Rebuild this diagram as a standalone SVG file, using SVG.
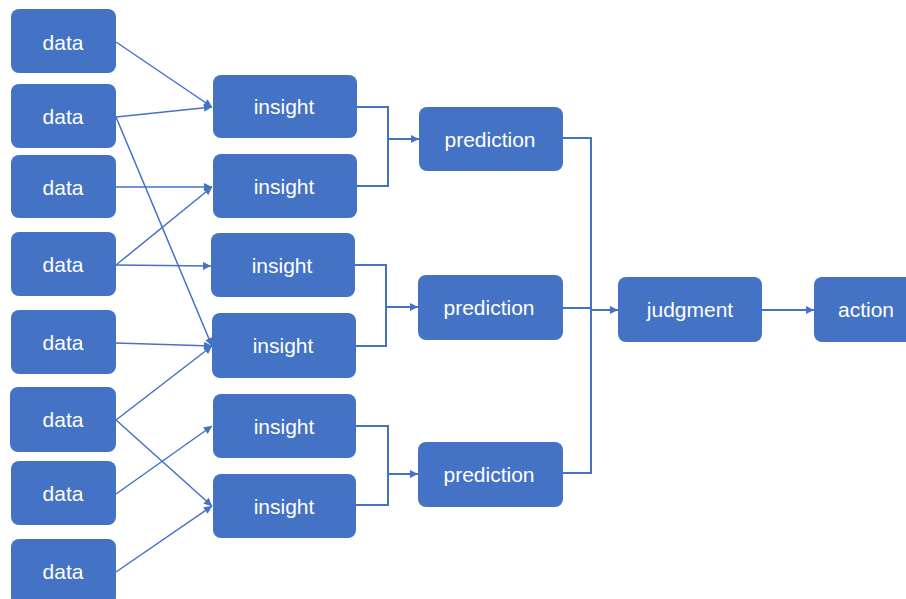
<svg xmlns="http://www.w3.org/2000/svg" width="906" height="599" viewBox="0 0 906 599">
  <style>
    .box { fill: #4472C4; }
    .lbl { fill: #ffffff; font-family: "Liberation Sans", Arial, sans-serif; font-size: 21px; text-anchor: middle; }
    .wire { fill: none; stroke: #4472C4; stroke-width: 1.5; }
    .bus { fill: none; stroke: #4472C4; stroke-width: 2; }
  </style>
  <defs>
    <marker id="arrow" viewBox="0 0 10 10" refX="10" refY="5" markerWidth="9" markerHeight="8" markerUnits="userSpaceOnUse" orient="auto">
      <path d="M0,0 L10,5 L0,10 z" fill="#4472C4"/>
    </marker>
  </defs>
  <rect width="906" height="599" fill="#ffffff"/>

  <!-- connectors -->
  <g id="connectors">
    <!-- data to insight -->
    <line class="wire" x1="116" y1="42" x2="212" y2="107" marker-end="url(#arrow)"/>
    <line class="wire" x1="116" y1="117" x2="212" y2="107" marker-end="url(#arrow)"/>
    <line class="wire" x1="116" y1="117" x2="212" y2="346" marker-end="url(#arrow)"/>
    <line class="wire" x1="116" y1="187" x2="212" y2="187" marker-end="url(#arrow)"/>
    <line class="wire" x1="116" y1="265" x2="212" y2="187" marker-end="url(#arrow)"/>
    <line class="wire" x1="116" y1="265" x2="211" y2="266" marker-end="url(#arrow)"/>
    <line class="wire" x1="116" y1="343" x2="212" y2="346" marker-end="url(#arrow)"/>
    <line class="wire" x1="116" y1="420" x2="212" y2="346" marker-end="url(#arrow)"/>
    <line class="wire" x1="116" y1="420" x2="212" y2="506" marker-end="url(#arrow)"/>
    <line class="wire" x1="116" y1="494" x2="212" y2="426" marker-end="url(#arrow)"/>
    <line class="wire" x1="116" y1="572" x2="212" y2="506" marker-end="url(#arrow)"/>
    <!-- insight pairs to prediction -->
    <polyline class="bus" points="356,107 388,107 388,186 356,186"/>
    <line class="bus" x1="388" y1="139" x2="419" y2="139" marker-end="url(#arrow)"/>
    <polyline class="bus" points="355,265 386,265 386,346 355,346"/>
    <line class="bus" x1="386" y1="307" x2="418" y2="307" marker-end="url(#arrow)"/>
    <polyline class="bus" points="356,426 388,426 388,505 356,505"/>
    <line class="bus" x1="388" y1="474" x2="418" y2="474" marker-end="url(#arrow)"/>
    <!-- predictions to judgment -->
    <polyline class="bus" points="563,138 591,138 591,473 563,473"/>
    <line class="bus" x1="563" y1="308" x2="591" y2="308"/>
    <line class="bus" x1="591" y1="310" x2="618" y2="310" marker-end="url(#arrow)"/>
    <!-- judgment to action -->
    <line class="bus" x1="762" y1="310" x2="814" y2="310" marker-end="url(#arrow)"/>
  </g>

  <!-- data nodes -->
  <g id="data1"><rect class="box" x="11" y="9" width="105" height="64" rx="8"/><text class="lbl" x="63" y="50">data</text></g>
  <g id="data2"><rect class="box" x="11" y="84" width="105" height="64" rx="8"/><text class="lbl" x="63" y="124">data</text></g>
  <g id="data3"><rect class="box" x="11" y="155" width="105" height="63" rx="8"/><text class="lbl" x="63" y="195">data</text></g>
  <g id="data4"><rect class="box" x="11" y="232" width="105" height="64" rx="8"/><text class="lbl" x="63" y="272">data</text></g>
  <g id="data5"><rect class="box" x="11" y="310" width="105" height="64" rx="8"/><text class="lbl" x="63" y="350">data</text></g>
  <g id="data6"><rect class="box" x="10" y="387" width="106" height="65" rx="8"/><text class="lbl" x="63" y="427">data</text></g>
  <g id="data7"><rect class="box" x="11" y="461" width="105" height="64" rx="8"/><text class="lbl" x="63" y="501">data</text></g>
  <g id="data8"><rect class="box" x="11" y="539" width="105" height="66" rx="8"/><text class="lbl" x="63" y="579">data</text></g>

  <!-- insight nodes -->
  <g id="insight1"><rect class="box" x="213" y="75" width="144" height="63" rx="8"/><text class="lbl" x="284" y="114">insight</text></g>
  <g id="insight2"><rect class="box" x="213" y="154" width="144" height="64" rx="8"/><text class="lbl" x="284" y="194">insight</text></g>
  <g id="insight3"><rect class="box" x="211" y="233" width="144" height="64" rx="8"/><text class="lbl" x="282" y="273">insight</text></g>
  <g id="insight4"><rect class="box" x="212" y="313" width="144" height="65" rx="8"/><text class="lbl" x="283" y="353">insight</text></g>
  <g id="insight5"><rect class="box" x="213" y="394" width="143" height="64" rx="8"/><text class="lbl" x="284" y="434">insight</text></g>
  <g id="insight6"><rect class="box" x="213" y="474" width="143" height="64" rx="8"/><text class="lbl" x="284" y="514">insight</text></g>

  <!-- prediction nodes -->
  <g id="prediction1"><rect class="box" x="419" y="107" width="144" height="64" rx="8"/><text class="lbl" x="490" y="147">prediction</text></g>
  <g id="prediction2"><rect class="box" x="418" y="275" width="145" height="65" rx="8"/><text class="lbl" x="489" y="315">prediction</text></g>
  <g id="prediction3"><rect class="box" x="418" y="442" width="145" height="65" rx="8"/><text class="lbl" x="489" y="482">prediction</text></g>

  <!-- judgment and action -->
  <g id="judgment"><rect class="box" x="618" y="277" width="144" height="65" rx="8"/><text class="lbl" x="690" y="317">judgment</text></g>
  <g id="action"><rect class="box" x="814" y="277" width="100" height="65" rx="8"/><text class="lbl" x="866" y="317">action</text></g>
</svg>
